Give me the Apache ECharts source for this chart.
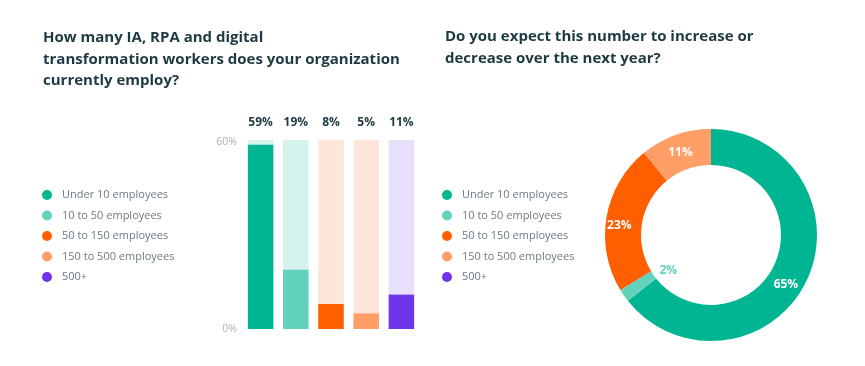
<!DOCTYPE html>
<html>
<head>
<meta charset="utf-8">
<script src="https://cdn.jsdelivr.net/npm/echarts@6/dist/echarts.min.js"></script>
<style>
html,body{margin:0;padding:0;background:#fff;}
#chart{width:865px;height:366px;}
</style>
</head>
<body>
<div id="chart"></div>
<script>
// ---- data ----
var categories = ['Under 10 employees', '10 to 50 employees', '50 to 150 employees', '150 to 500 employees', '500+'];
var currentValues = [59, 19, 8, 5, 11];          // left bar chart (%)
var expectValues = [65, 2, 23, 11, 0];           // right donut (%)
var yTickLabels = ['0%', '60%'];
var leftTitle = 'How many IA, RPA and digital\ntransformation workers does your organization\ncurrently employ?';
var rightTitle = 'Do you expect this number to increase or\ndecrease over the next year?';

// ---- styles ----
var colors = ['#00b592', '#63d2bd', '#ff5f00', '#ff9e66', '#7035e8'];
var bgColors = ['#d6f2ec', '#d6f2ec', '#fee5d9', '#fee5d9', '#e8dffb'];
var FONT = 'Open Sans';
var axisMax = 60.5;

var chart = echarts.init(document.getElementById('chart'), null, {renderer: 'canvas'});

var pieData = categories.map(function (c, i) {
  var d = {name: c, value: expectValues[i], itemStyle: {color: colors[i]}};
  return d;
});
// label tweaks
pieData[0].label = {offset: [-7, 10]};
pieData[1].label = {color: '#63d2bd', offset: [32, -16]};
pieData[2].label = {offset: [-2, 6]};
pieData[3].label = {offset: [0, 3]};
pieData[4].label = {show: false};

var legendBase = {
  orient: 'vertical',
  top: 189,
  icon: 'circle',
  itemWidth: 10,
  itemHeight: 10,
  itemGap: 8.5,
  selectedMode: false,
  padding: 0,
  data: categories,
  textStyle: {fontFamily: FONT, fontSize: 11, color: '#6b7b83', lineHeight: 12, padding: [0, 0, 0, 5]}
};

var option = {
  backgroundColor: '#ffffff',
  animation: false,
  title: [
    {text: leftTitle, left: 43, top: 27, padding: 0,
     textStyle: {fontFamily: FONT, fontSize: 15, fontWeight: 'bold', color: '#1d3942', lineHeight: 21.5}},
    {text: rightTitle, left: 445, top: 26, padding: 0,
     textStyle: {fontFamily: FONT, fontSize: 15, fontWeight: 'bold', color: '#1d3942', lineHeight: 21.5}}
  ],
  legend: [
    Object.assign({}, legendBase, {left: 42}),
    Object.assign({}, legendBase, {left: 442})
  ],
  grid: {left: 243, width: 176, top: 140, bottom: 37, containLabel: false},
  xAxis: {
    type: 'category', data: categories,
    axisLine: {show: false}, axisTick: {show: false}, axisLabel: {show: false}
  },
  yAxis: {
    type: 'value', min: 0, max: axisMax, interval: 60,
    splitLine: {show: false}, axisLine: {show: false}, axisTick: {show: false},
    axisLabel: {
      showMaxLabel: false, margin: 6,
      fontFamily: FONT, fontSize: 10.5, color: '#a9b2b7',
      formatter: function (v) { return v === 0 ? yTickLabels[0] : (v === 60 ? yTickLabels[1] : ''); }
    }
  },
  series: [
    {
      type: 'bar', name: 'bg', barWidth: 25.5, barGap: '-100%', silent: true,
      data: categories.map(function (c, i) { return {value: axisMax, itemStyle: {color: bgColors[i]}}; }),
      label: {
        show: true, position: 'top', distance: 11,
        fontFamily: FONT, fontSize: 12, fontWeight: 'bold', color: '#1d3942',
        formatter: function (p) { return currentValues[p.dataIndex] + '%'; }
      }
    },
    {
      type: 'bar', name: 'current', barWidth: 25.5, barGap: '-100%',
      data: currentValues.map(function (v, i) { return {value: v, itemStyle: {color: colors[i]}}; })
    },
    {
      type: 'pie', name: 'expect',
      center: [711, 235], radius: [70, 106],
      startAngle: 90, clockwise: true,
      avoidLabelOverlap: false,
      label: {
        show: true, position: 'inside',
        fontFamily: FONT, fontSize: 12, fontWeight: 'bold', color: '#ffffff',
        formatter: function (p) { return p.value + '%'; }
      },
      labelLine: {show: false},
      itemStyle: {borderWidth: 0},
      emphasis: {disabled: true},
      data: pieData
    }
  ]
};
chart.setOption(option);
</script>
</body>
</html>
